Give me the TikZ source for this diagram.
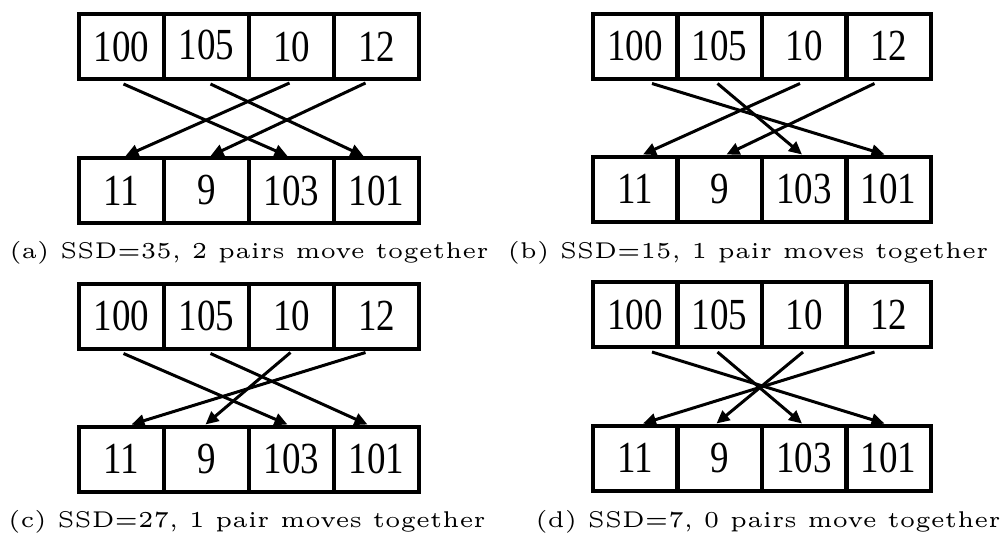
\documentclass[tikz,border=0pt]{standalone}
\usepackage{fontspec}
\usetikzlibrary{arrows.meta}
\newfontfamily\cellfont{Liberation Serif}
\newcommand{\tallnum}[1]{\scalebox{1}[1.2]{#1}}
\newcommand{\capt}[1]{\scalebox{4.56}{\fontsize{5}{6}\selectfont #1}}

\tikzset{
  cell/.style={draw, line width=4pt, minimum width=85pt, minimum height=65pt,
    inner sep=0pt, outer sep=0pt, font=\cellfont\fontsize{37}{42}\selectfont},
  move/.style={line width=3pt, -{Triangle[length=13pt,width=12pt]}},
  caption/.style={anchor=base}
}

\begin{document}
\begin{tikzpicture}[x=1pt,y=1pt]
  \useasboundingbox (0,0) rectangle (1002,-539);

  % (a)
  \foreach \v [count=\i] in {100,{\raisebox{3pt}{105}},10,12}
    \node[cell] (a-t\i) at (121.5+85*\i-85,-46.5) {\tallnum{\v}};
  \foreach \v [count=\i] in {11,9,103,101}
    \node[cell] (a-b\i) at (121.5+85*\i-85,-190.5) {\tallnum{\v}};
  \draw[move] ([shift={(2,-5)}]a-t1.south) -- ([shift={(-4,2)}]a-b3.north);
  \draw[move] ([shift={(4,-5)}]a-t2.south) -- ([shift={(-13,2)}]a-b4.north);
  \draw[move] ([shift={(-2,-4)}]a-t3.south) -- ([shift={(4,2)}]a-b1.north);
  \draw[move] ([shift={(-11,-4)}]a-t4.south) -- ([shift={(4,2)}]a-b2.north);
  \node[caption] (a-cap) at (249,-258) {\capt{(a) SSD=35, 2 pairs move together}};

  % (b)
  \foreach \v [count=\i] in {100,105,10,12}
    \node[cell] (b-t\i) at (635+84.5*\i-84.5,-46) {\tallnum{\v}};
  \foreach \v [count=\i] in {11,9,103,101}
    \node[cell] (b-b\i) at (635+84.5*\i-84.5,-189) {\tallnum{\v}};
  \draw[move] ([shift={(17,-5)}]b-t1.south) -- ([shift={(-4,2)}]b-b4.north);
  \draw[move] ([shift={(-2,-5)}]b-t2.south) -- ([shift={(-2,2)}]b-b3.north);
  \draw[move] ([shift={(-4,-5)}]b-t3.south) -- ([shift={(8,2)}]b-b1.north);
  \draw[move] ([shift={(-14,-5)}]b-t4.south) -- ([shift={(7,2)}]b-b2.north);
  \node[caption] (b-cap) at (748,-258) {\capt{(b) SSD=15, 1 pair moves together}};

  % (c)
  \foreach \v [count=\i] in {100,105,10,12}
    \node[cell] (c-t\i) at (121.5+85*\i-85,-316) {\tallnum{\v}};
  \foreach \v [count=\i] in {11,9,103,101}
    \node[cell] (c-b\i) at (121.5+85*\i-85,-459) {\tallnum{\v}};
  \draw[move] ([shift={(2,-5)}]c-t1.south) -- ([shift={(-4,2)}]c-b3.north);
  \draw[move] ([shift={(4,-5)}]c-t2.south) -- ([shift={(-9,2)}]c-b4.north);
  \draw[move] ([shift={(-1,-4)}]c-t3.south) -- ([shift={(-1,2)}]c-b2.north);
  \draw[move] ([shift={(-11,-4)}]c-t4.south) -- ([shift={(10,2)}]c-b1.north);
  \node[caption] (c-cap) at (247,-527) {\capt{(c) SSD=27, 1 pair moves together}};

  % (d)
  \foreach \v [count=\i] in {100,{\raisebox{-5pt}{105}},10,12}
    \node[cell] (d-t\i) at (635+84.5*\i-84.5,-314.5) {\tallnum{\v}};
  \foreach \v [count=\i] in {11,9,103,101}
    \node[cell] (d-b\i) at (635+84.5*\i-84.5,-458) {\tallnum{\v}};
  \draw[move] ([shift={(17,-5)}]d-t1.south) -- ([shift={(-4,2)}]d-b4.north);
  \draw[move] ([shift={(-2,-5)}]d-t2.south) -- ([shift={(-2,2)}]d-b3.north);
  \draw[move] ([shift={(-1,-5)}]d-t3.south) -- ([shift={(-3,2)}]d-b2.north);
  \draw[move] ([shift={(-14,-5)}]d-t4.south) -- ([shift={(8,2)}]d-b1.north);
  \node[caption] (d-cap) at (768,-527) {\capt{(d) SSD=7, 0 pairs move together}};
\end{tikzpicture}
\end{document}
